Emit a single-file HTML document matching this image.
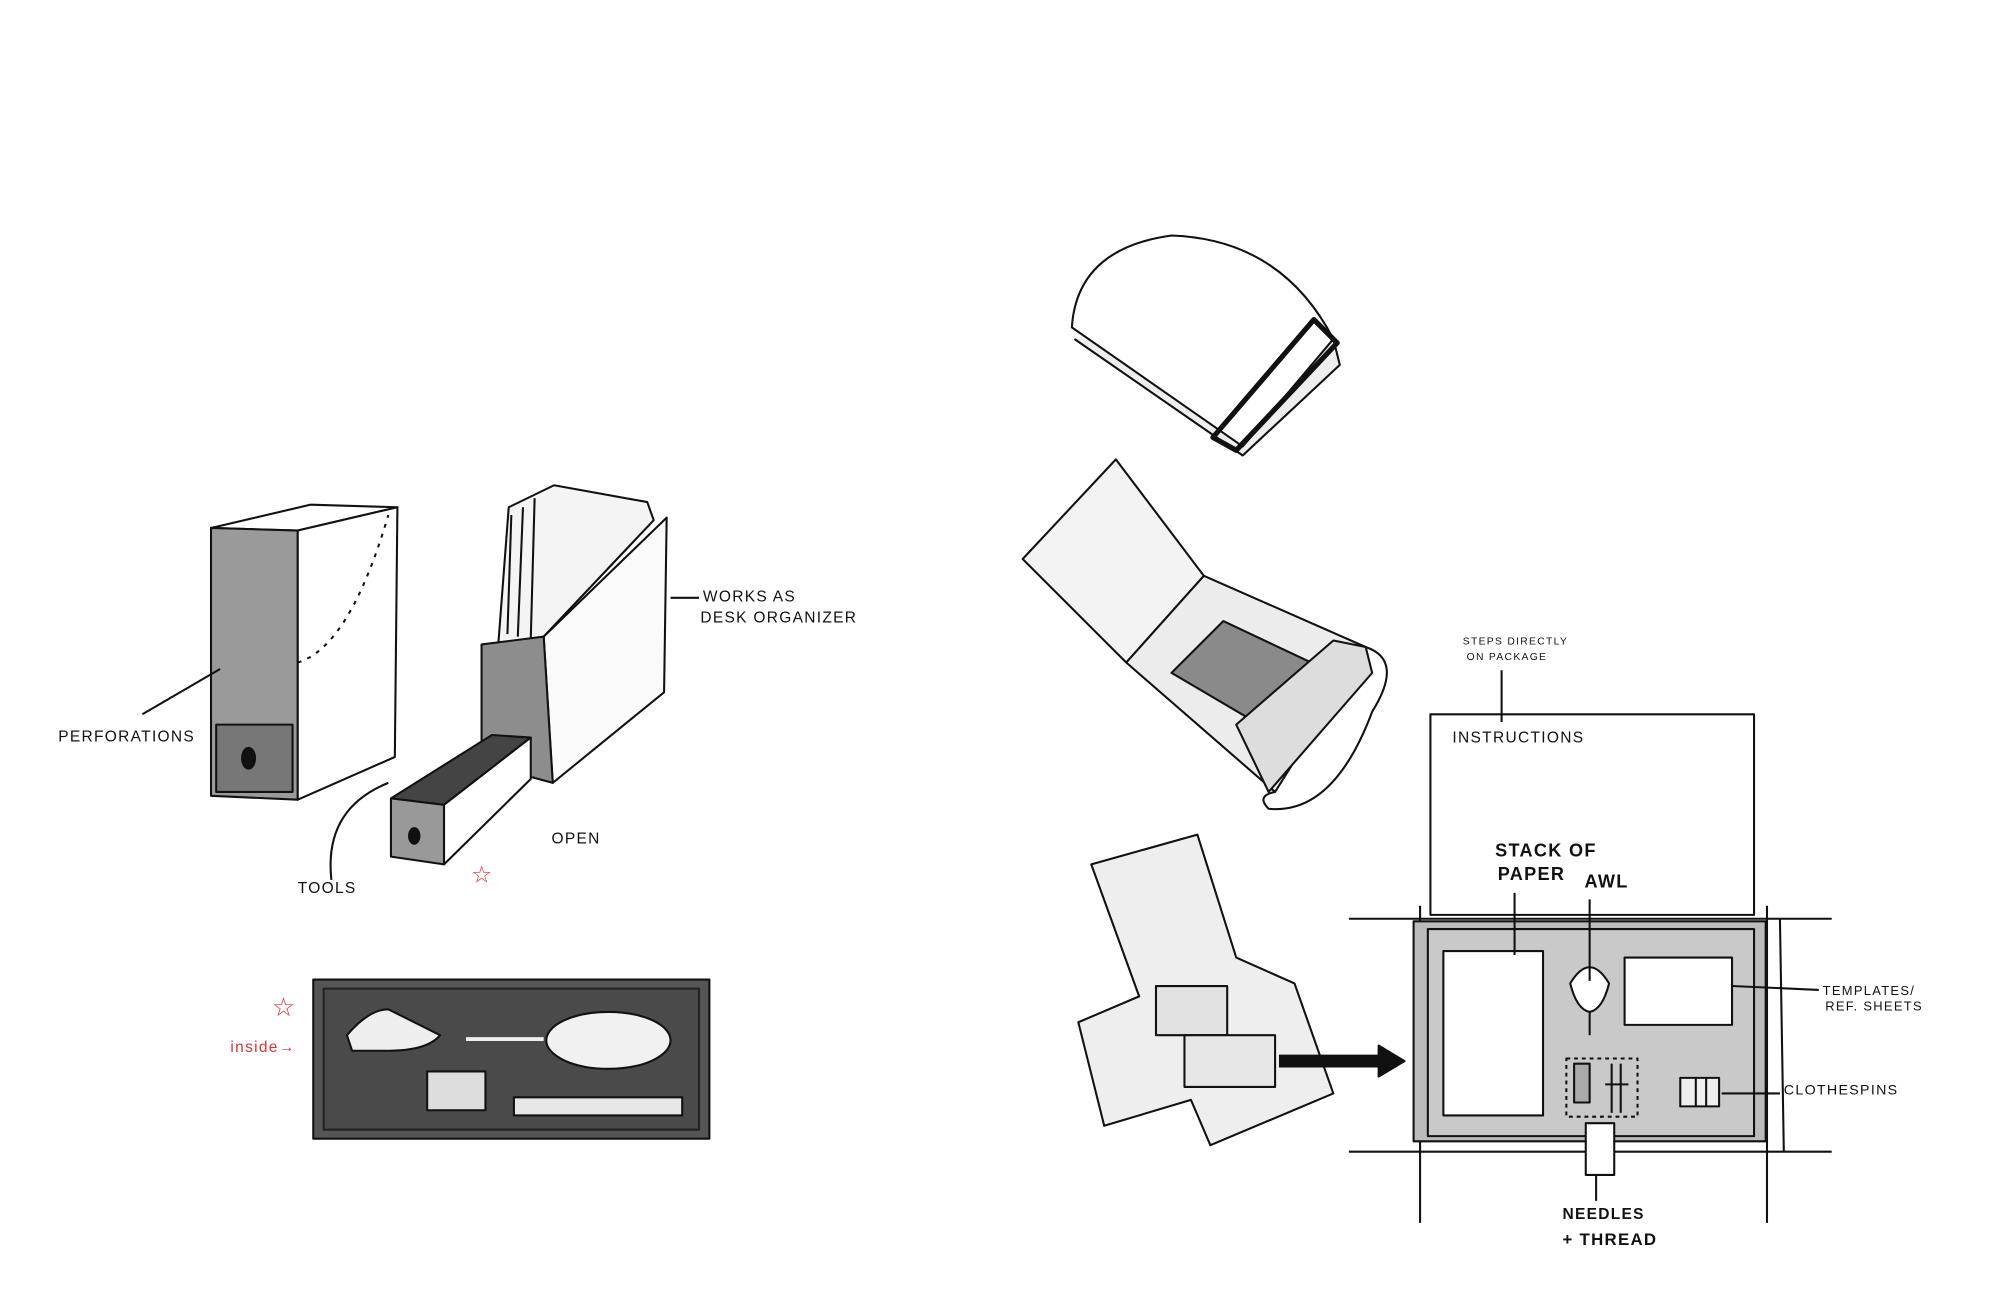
<!DOCTYPE html>
<html><head><meta charset="utf-8"><style>
html,body{margin:0;padding:0;background:#fff;}
svg{display:block;width:2000px;height:1294px;}
text{font-family:"Liberation Sans",sans-serif;font-size:12px;fill:#111;letter-spacing:1px;stroke:none;font-weight:normal;}
</style></head><body>
<svg viewBox="0 0 1545 1000" preserveAspectRatio="none" xmlns="http://www.w3.org/2000/svg" stroke="#111" stroke-width="1.6" fill="none" stroke-linejoin="round">
<!-- left closed box -->
<polygon points="163,408 240,390 307,392 230,410" fill="#fff"/>
<polygon points="163,408 230,410 230,618 163,615" fill="#9a9a9a"/>
<polygon points="230,410 307,392 305,585 230,618" fill="#fff"/>
<rect x="167" y="560" width="59" height="52" fill="#777"/>
<ellipse cx="192" cy="586" rx="5" ry="8" fill="#111"/>
<path d="M230,512 Q270,500 300,398" stroke-dasharray="3,5"/>
<path d="M110,552 L170,517"/>
<text x="45" y="573">PERFORATIONS</text>
<!-- open box -->
<polygon points="385,497 393,392 428,375 500,388 505,402 420,492" fill="#f4f4f4"/>
<path d="M395,398 L392,490 M404,392 L400,492 M413,385 L410,494"/>
<polygon points="420,492 515,400 513,535 427,605" fill="#fafafa"/>
<polygon points="372,498 420,492 427,605 372,590" fill="#8d8d8d"/>
<polygon points="302,617 380,568 410,570 343,622" fill="#444"/>
<polygon points="343,622 410,570 410,602 343,668" fill="#fff"/>
<polygon points="302,617 343,622 343,668 302,662" fill="#999"/>
<ellipse cx="320" cy="646" rx="4" ry="6" fill="#111"/>
<path d="M256,680 Q250,625 300,605"/>
<path d="M518,462 L540,462"/>
<text x="543" y="465">WORKS AS</text>
<text x="541" y="481">DESK ORGANIZER</text>
<text x="426" y="652">OPEN</text>
<text x="230" y="690">TOOLS</text>
<text x="364" y="682" style="fill:#d33;font-size:18px">☆</text>
<!-- tray -->
<rect x="242" y="757" width="306" height="123" fill="#555"/>
<rect x="250" y="764" width="290" height="109" fill="#4a4a4a" stroke="#222"/>
<path d="M268,800 Q285,780 300,780 Q320,790 340,800 Q330,812 300,812 L272,812 Z" fill="#eee"/>
<path d="M360,803 L420,803" stroke="#eee" stroke-width="3"/>
<ellipse cx="470" cy="804" rx="48" ry="22" fill="#f1f1f1"/>
<rect x="330" y="828" width="45" height="30" fill="#ddd"/>
<rect x="397" y="848" width="130" height="14" fill="#e6e6e6"/>
<text x="210" y="785" style="fill:#d33;font-size:20px">☆</text>
<text x="178" y="813" style="fill:#d33">inside→</text>
<!-- notebook -->
<path d="M830,262 L960,352 L1035,282 L1030,262" fill="#eee"/>
<path d="M828,253 Q832,192 905,182 Q990,185 1030,262 L960,345 Z" fill="#fff"/>
<path d="M1015,247 L1033,265 L955,348 L937,338 Z" stroke-width="4"/>
<!-- folder -->
<polygon points="790,432 862,355 930,445 870,512" fill="#f3f3f3"/>
<polygon points="870,512 930,445 1055,500 985,612" fill="#ececec"/>
<polygon points="905,520 945,480 1030,520 990,570" fill="#8a8a8a"/>
<polygon points="955,560 1030,495 1055,500 1060,520 980,612" fill="#ddd"/>
<path d="M1055,500 Q1085,510 1060,550 Q1030,630 980,625 Q970,615 985,612"/>
<!-- unfolded box -->
<polygon points="843,668 925,645 955,740 1000,760 1030,845 935,885 920,850 853,870 833,790 880,770" fill="#eee"/>
<rect x="893" y="762" width="55" height="38" fill="#e2e2e2"/>
<rect x="915" y="800" width="70" height="40" fill="#e6e6e6"/>
<path d="M988,820 L1068,820" stroke-width="10"/>
<polygon points="1065,808 1085,820 1065,832" fill="#111"/>
<!-- package diagram -->
<rect x="1105" y="552" width="250" height="155" fill="#fff"/>
<path d="M1042,710 L1415,710 M1042,890 L1415,890 M1097,700 L1097,945 M1365,700 L1365,945 M1375,710 L1378,890"/>
<rect x="1092" y="712" width="272" height="170" fill="#bbb"/>
<rect x="1103" y="718" width="252" height="160" fill="#c9c9c9"/>
<rect x="1115" y="735" width="77" height="127" fill="#fff"/>
<path d="M1213,760 Q1228,735 1243,760 Q1238,780 1228,782 Q1218,780 1213,760 Z" fill="#fff"/>
<path d="M1228,782 L1228,800"/>
<rect x="1255" y="740" width="83" height="52" fill="#fff"/>
<rect x="1210" y="818" width="55" height="45" stroke-dasharray="3,3"/>
<rect x="1216" y="822" width="12" height="30" fill="#aaa"/>
<path d="M1245,822 L1245,860 M1252,822 L1252,860 M1240,838 L1258,838"/>
<rect x="1298" y="833" width="30" height="22" fill="#eee"/>
<path d="M1310,833 L1310,855 M1318,833 L1318,855"/>
<rect x="1225" y="868" width="22" height="40" fill="#fff"/>
<path d="M1170,690 L1170,738 M1228,695 L1228,758 M1338,762 L1405,765 M1330,845 L1375,845 M1233,908 L1233,928 M1160,518 L1160,558"/>
<text x="1130" y="498" style="font-size:8px">STEPS DIRECTLY</text>
<text x="1133" y="510" style="font-size:8px">ON PACKAGE</text>
<text x="1122" y="574">INSTRUCTIONS</text>
<text x="1155" y="662" style="font-size:14px;font-weight:bold">STACK OF</text>
<text x="1157" y="680" style="font-size:14px;font-weight:bold">PAPER</text>
<text x="1224" y="686" style="font-size:14px;font-weight:bold">AWL</text>
<text x="1408" y="769" style="font-size:10px">TEMPLATES/</text>
<text x="1410" y="781" style="font-size:10px">REF. SHEETS</text>
<text x="1378" y="846" style="font-size:11px">CLOTHESPINS</text>
<text x="1207" y="942" style="font-size:12px;font-weight:bold">NEEDLES</text>
<text x="1207" y="962" style="font-size:13px;font-weight:bold">+ THREAD</text>
</svg>
</body></html>
